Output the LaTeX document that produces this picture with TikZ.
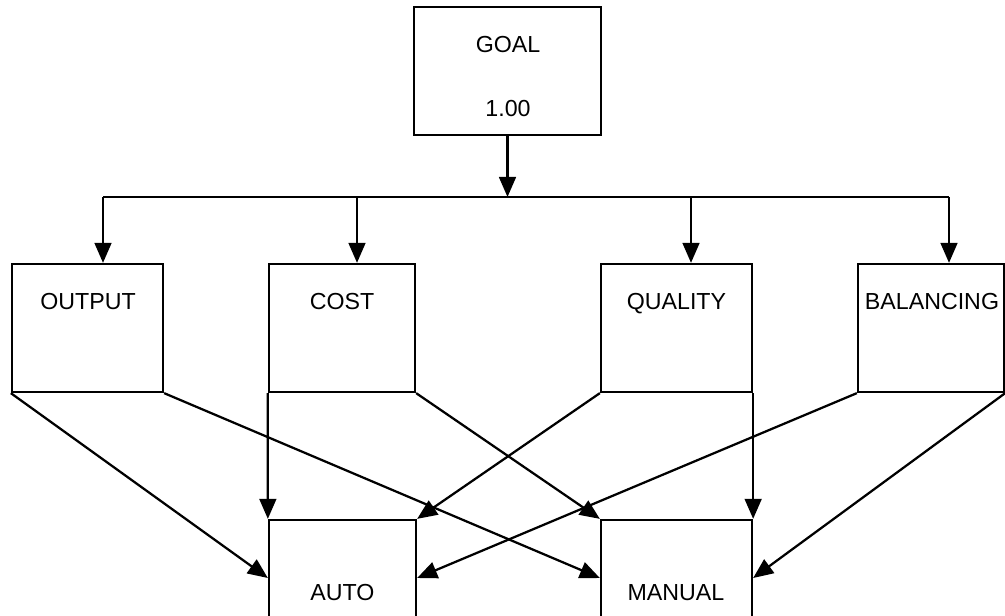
\documentclass[tikz,border=0pt]{standalone}
\usepackage{fontspec}
\setmainfont{Liberation Sans}
\usetikzlibrary{arrows.meta}

\begin{document}
\begin{tikzpicture}[x=0.025cm, y=-0.025cm, line width=1.6pt,
	box/.style={draw, rectangle, inner sep=0pt, minimum height=3.2cm},
	alt/.style={box, minimum height=2.9cm},
	lbl/.style={anchor=base, inner sep=0pt, font=\fontsize{16.5}{19}\selectfont},
	arr/.style={-{Triangle[length=0.5cm, width=0.42cm]}}]
			\useasboundingbox (0,0) rectangle (1005,616);
			\clip (0,0) rectangle (1005,616);
			
			\node(goal) [box, minimum width=4.675cm] at (507.5,71){};
			\node(output) [box, minimum width=3.775cm] at (87.5,328){};
			\node(cost) [box, minimum width=3.65cm] at (342,328){};
			\node(quality) [box, minimum width=3.775cm] at (676.5,328){};
			\node(balancing) [box, minimum width=3.65cm] at (931,328){};
			\node(auto) [alt, minimum width=3.675cm] at (342.5,578){};
			\node(manual) [alt, minimum width=3.775cm] at (676.5,578){};
			
			\node(goaltxt) [lbl] at (508,53){GOAL};
			\node(goalval) [lbl] at (508,117){1.00};
			\node(outputtxt) [lbl] at (88,310){OUTPUT};
			\node(costtxt) [lbl] at (342,310){COST};
			\node(qualitytxt) [lbl] at (676.5,310){QUALITY};
			\node(balancingtxt) [lbl] at (932,310){BALANCING};
			\node(autotxt) [lbl] at (342.5,600){AUTO};
			\node(manualtxt) [lbl] at (676,600){MANUAL};
			
			\coordinate(bus) at (507.5,197);
			\coordinate(b1) at (103,197);
			\coordinate(b2) at (357,197);
			\coordinate(b3) at (691,197);
			\coordinate(b4) at (949,197);
			
			\draw[arr](goal)--(bus);
			\draw(b1)--(b4);
			\draw[arr](b1)--(b1 |- output.north);
			\draw[arr](b2)--(b2 |- cost.north);
			\draw[arr](b3)--(b3 |- quality.north);
			\draw[arr](b4)--(b4 |- balancing.north);
			
			\draw[arr](output.south west)--(auto.west);
			\draw[arr](output.south east)--(manual.west);
			\draw[arr](cost.south west)--(auto.north west);
			\draw[arr](cost.south east)--(manual.north west);
			\draw[arr](quality.south west)--(auto.north east);
			\draw[arr](quality.south east)--(manual.north east);
			\draw[arr](balancing.south west)--(auto.east);
			\draw[arr](balancing.south east)--(manual.east);
			
		\end{tikzpicture}
\end{document}
